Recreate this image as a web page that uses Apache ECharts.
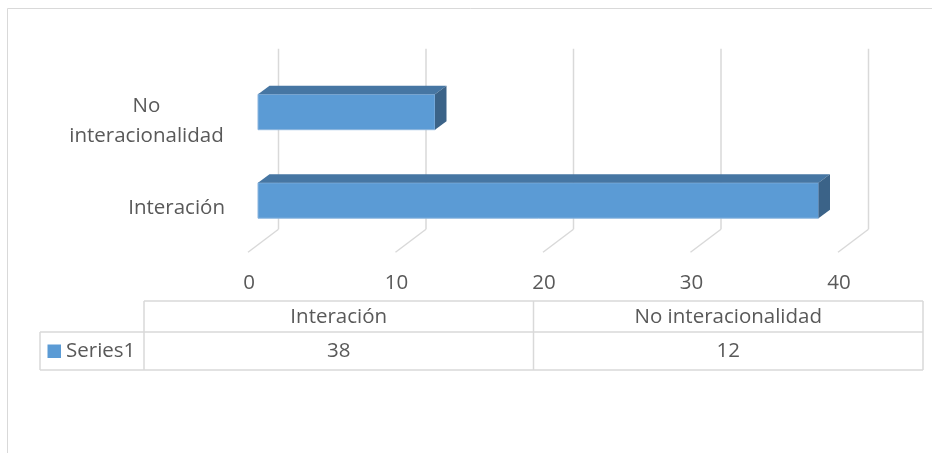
<!DOCTYPE html>
<html>
<head>
<meta charset="utf-8">
<script src="https://cdn.jsdelivr.net/npm/echarts@6/dist/echarts.min.js"></script>
<style>
html,body{margin:0;padding:0;background:#fff;}
#chart{width:932px;height:453px;}
</style>
</head>
<body>
<div id="chart"></div>
<script>
// ---- data ----
const categories = ['Interación', 'No interacionalidad'];
const values = [38, 12];
const seriesName = 'Series1';
const xTicks = [0, 10, 20, 30, 40];

// ---- styles ----
const FONT = '"Open Sans", sans-serif';
const FS = 20.5;
const TXT = '#595959';
const GRID = '#D9D9D9';
const FRONT = '#5B9BD5';
const TOP = '#4676A3';
const SIDE = '#3B6388';

const chart = echarts.init(document.getElementById('chart'), null, {renderer: 'canvas'});

function labelFmt(v) {
  if (v.length > 12 && v.indexOf(' ') > 0) {
    const i = v.indexOf(' ');
    return '{c|' + v.slice(0, i) + '}\n{c|' + v.slice(i + 1) + '}';
  }
  return v;
}

// data table graphic built from arrays
const tbl = {x0: 40, x1: 144, x2: 923, y0: 301, y1: 332, y2: 370};
const graphics = [];
graphics.push({type: 'rect', shape: {x: 7.5, y: 8.5, width: 940, height: 460}, style: {fill: 'none', stroke: GRID, lineWidth: 1}, silent: true});
const lineStyle = {stroke: GRID, lineWidth: 1.5};
function hline(x1, x2, y) { graphics.push({type: 'line', shape: {x1, y1: y, x2, y2: y}, style: lineStyle, silent: true}); }
function vline(x, y1, y2) { graphics.push({type: 'line', shape: {x1: x, y1, x2: x, y2}, style: lineStyle, silent: true}); }
hline(tbl.x1, tbl.x2, tbl.y0);
hline(tbl.x0, tbl.x2, tbl.y1);
hline(tbl.x0, tbl.x2, tbl.y2);
vline(tbl.x0, tbl.y1, tbl.y2);
const colW = (tbl.x2 - tbl.x1) / categories.length;
for (let i = 0; i <= categories.length; i++) vline(tbl.x1 + i * colW, tbl.y0, tbl.y2);
categories.forEach((c, i) => {
  const cx = tbl.x1 + (i + 0.5) * colW;
  graphics.push({type: 'text', x: cx, y: (tbl.y0 + tbl.y1) / 2 + 1, style: {text: c, fill: TXT, font: FS + 'px ' + FONT, align: 'center', verticalAlign: 'middle'}, silent: true});
  graphics.push({type: 'text', x: cx, y: (tbl.y1 + tbl.y2) / 2, style: {text: String(values[i]), fill: TXT, font: FS + 'px ' + FONT, align: 'center', verticalAlign: 'middle'}, silent: true});
});
graphics.push({type: 'rect', shape: {x: 47.5, y: 344.5, width: 13.5, height: 13.5}, style: {fill: FRONT}, silent: true});
graphics.push({type: 'text', x: 66, y: (tbl.y1 + tbl.y2) / 2, style: {text: seriesName, fill: TXT, font: FS + 'px ' + FONT, align: 'left', verticalAlign: 'middle'}, silent: true});

const option = {
  animation: false,
  backgroundColor: '#fff',
  grid: [
    {left: 258, width: 590, top: 67.75, height: 177},   // bars (mid-depth plane)
    {left: 249, width: 590, top: 77.5, height: 174}     // front plane: labels
  ],
  xAxis: [
    {gridIndex: 0, type: 'value', min: 0, max: 40, interval: 10, show: false},
    {gridIndex: 1, type: 'value', min: 0, max: 40, interval: 10,
     axisLine: {show: false}, axisTick: {show: false}, splitLine: {show: false},
     axisLabel: {color: TXT, fontFamily: FONT, fontSize: FS, margin: 21}}
  ],
  yAxis: [
    {gridIndex: 0, type: 'category', data: categories, show: false},
    {gridIndex: 1, type: 'category', data: categories,
     axisLine: {show: false}, axisTick: {show: false}, splitLine: {show: false},
     axisLabel: {color: TXT, fontFamily: FONT, fontSize: FS, margin: 24, lineHeight: 30,
       formatter: labelFmt,
       rich: {c: {width: 157, align: 'center', color: TXT, fontFamily: FONT, fontSize: FS, lineHeight: 30}}}}
  ],
  series: [
    {
      type: 'custom', xAxisIndex: 0, yAxisIndex: 0, silent: true, z: 1,
      data: xTicks.map(v => [v]),
      encode: {x: 0},
      renderItem: function (params, api) {
        const cs = params.coordSys;
        const x = api.coord([api.value(0), 0])[0];
        const bx = x + 20.5, fx = x - 10;
        const topY = cs.y - 19, floorY = cs.y + cs.height - 15.5, frontY = floorY + 23;
        return {type: 'group', children: [
          {type: 'line', shape: {x1: bx, y1: topY, x2: bx, y2: floorY}, style: {stroke: GRID, lineWidth: 1.5}},
          {type: 'line', shape: {x1: bx, y1: floorY, x2: fx, y2: frontY}, style: {stroke: GRID, lineWidth: 1.5}}
        ]};
      }
    },
    {
      type: 'custom', name: seriesName, xAxisIndex: 0, yAxisIndex: 0, silent: true, z: 2,
      data: values.map((v, i) => [v, i]),
      encode: {x: 0, y: 1},
      renderItem: function (params, api) {
        const s = api.coord([0, api.value(1)]);
        const e = api.coord([api.value(0), api.value(1)]);
        const h = api.size([0, 1])[1] * 0.4;
        const dx = 11.5, dy = -8.5;
        const t = s[1] - h / 2, b = s[1] + h / 2;
        const sx = s[0], ex = e[0];
        return {type: 'group', children: [
          {type: 'rect', shape: {x: sx, y: t, width: ex - sx, height: h}, style: {fill: FRONT, stroke: '#8CB5DE', lineWidth: 1}},
          {type: 'polygon', shape: {points: [[sx, t], [ex, t], [ex + dx, t + dy], [sx + dx, t + dy]]}, style: {fill: TOP}},
          {type: 'polygon', shape: {points: [[ex, t], [ex + dx, t + dy], [ex + dx, b + dy], [ex, b]]}, style: {fill: SIDE}}
        ]};
      }
    }
  ],
  graphic: graphics
};
chart.setOption(option);
</script>
</body>
</html>
